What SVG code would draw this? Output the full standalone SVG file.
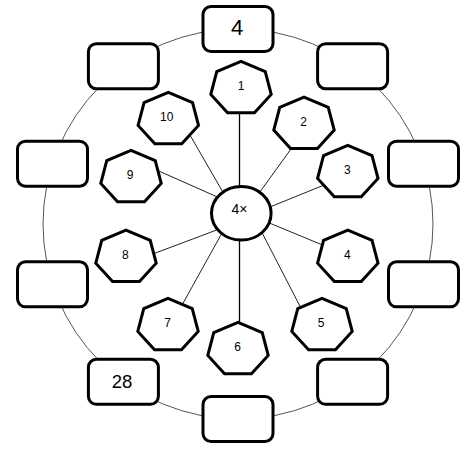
<svg xmlns="http://www.w3.org/2000/svg" xmlns:xlink="http://www.w3.org/1999/xlink" width="476" height="454" viewBox="0 0 476 454">
<style>
.box{fill:#fff;stroke:#000;stroke-width:3}
.hep{fill:#fff;stroke:#000;stroke-width:3;stroke-linejoin:miter}
.ring{fill:none;stroke:#555;stroke-width:1}
.spoke{stroke:#222;stroke-width:1}
.vspoke{stroke:#000;stroke-width:1.3}
.num{font-family:"Liberation Sans",Arial,sans-serif;font-size:12px;text-anchor:middle;fill:#000}
.big{font-family:"Liberation Sans",Arial,sans-serif;text-anchor:middle;fill:#000}
</style>
<defs>
<polygon id="hept" points="0,-27 24.24,-16.82 30.22,6.01 13.45,24.33 -13.45,24.33 -30.22,6.01 -24.24,-16.82"/>
</defs>
<rect width="476" height="454" fill="#fff"/>
<circle class="ring" cx="238" cy="224" r="195"/>
<g id="connectors">
<line class="vspoke" x1="239.5" y1="108" x2="239.5" y2="192"/>
<line class="vspoke" x1="239.5" y1="234" x2="239.5" y2="326"/>
<line class="spoke" x1="187" y1="130" x2="224" y2="194"/>
<line class="spoke" x1="152" y1="168" x2="222" y2="199"/>
<line class="spoke" x1="296" y1="142" x2="257" y2="196"/>
<line class="spoke" x1="329" y1="183" x2="266" y2="208.6"/>
<line class="spoke" x1="264" y1="220.8" x2="329" y2="247.7"/>
<line class="spoke" x1="259.6" y1="228" x2="304" y2="314"/>
<line class="spoke" x1="148" y1="255.8" x2="222" y2="228"/>
<line class="spoke" x1="179" y1="310.5" x2="222" y2="233"/>
</g>
<g id="box-top"><rect class="box" x="203" y="6.5" width="70" height="45" rx="8"/><text class="big" x="237" y="35" font-size="22">4</text></g>
<g id="box-ur"><rect class="box" x="317.6" y="43.7" width="70" height="45" rx="8"/></g>
<g id="box-r"><rect class="box" x="388.5" y="141.2" width="70" height="45" rx="8"/></g>
<g id="box-rl"><rect class="box" x="388.5" y="261.8" width="70" height="45" rx="8"/></g>
<g id="box-lr"><rect class="box" x="317.6" y="359.3" width="70" height="45" rx="8"/></g>
<g id="box-bottom"><rect class="box" x="203" y="396.5" width="70" height="45" rx="8"/></g>
<g id="box-28"><rect class="box" x="88.4" y="359.3" width="70" height="45" rx="8"/><text class="big" x="122" y="387.5" font-size="18.5">28</text></g>
<g id="box-ll"><rect class="box" x="17.5" y="261.8" width="70" height="45" rx="8"/></g>
<g id="box-l"><rect class="box" x="17.5" y="141.2" width="70" height="45" rx="8"/></g>
<g id="box-ul"><rect class="box" x="88.4" y="43.7" width="70" height="45" rx="8"/></g>
<g id="hub"><ellipse cx="241.3" cy="213.3" rx="29.8" ry="26.8" fill="#fff" stroke="#000" stroke-width="3"/><text class="big" x="239.5" y="214" font-size="14">4×</text></g>
<g id="hep-1"><use xlink:href="#hept" href="#hept" class="hep" x="241" y="88.4"/><text class="num" x="241" y="90">1</text></g>
<g id="hep-2"><use xlink:href="#hept" href="#hept" class="hep" x="304" y="124.1"/><text class="num" x="303.5" y="126">2</text></g>
<g id="hep-3"><use xlink:href="#hept" href="#hept" class="hep" x="347.8" y="172.4"/><text class="num" x="347.3" y="173.6">3</text></g>
<g id="hep-4"><use xlink:href="#hept" href="#hept" class="hep" x="347.8" y="257.2"/><text class="num" x="347.3" y="258.6">4</text></g>
<g id="hep-5"><use xlink:href="#hept" href="#hept" class="hep" x="322" y="325.4"/><text class="num" x="321" y="326.6">5</text></g>
<g id="hep-6"><use xlink:href="#hept" href="#hept" class="hep" x="238" y="349.4"/><text class="num" x="237.5" y="351">6</text></g>
<g id="hep-7"><use xlink:href="#hept" href="#hept" class="hep" x="168" y="325.4"/><text class="num" x="167.7" y="326.6">7</text></g>
<g id="hep-8"><use xlink:href="#hept" href="#hept" class="hep" x="126" y="257.2"/><text class="num" x="125.3" y="258.6">8</text></g>
<g id="hep-9"><use xlink:href="#hept" href="#hept" class="hep" x="131" y="177.4"/><text class="num" x="130" y="178.6">9</text></g>
<g id="hep-10"><use xlink:href="#hept" href="#hept" class="hep" x="168.3" y="119.4"/><text class="num" x="166.7" y="121">10</text></g>
</svg>
